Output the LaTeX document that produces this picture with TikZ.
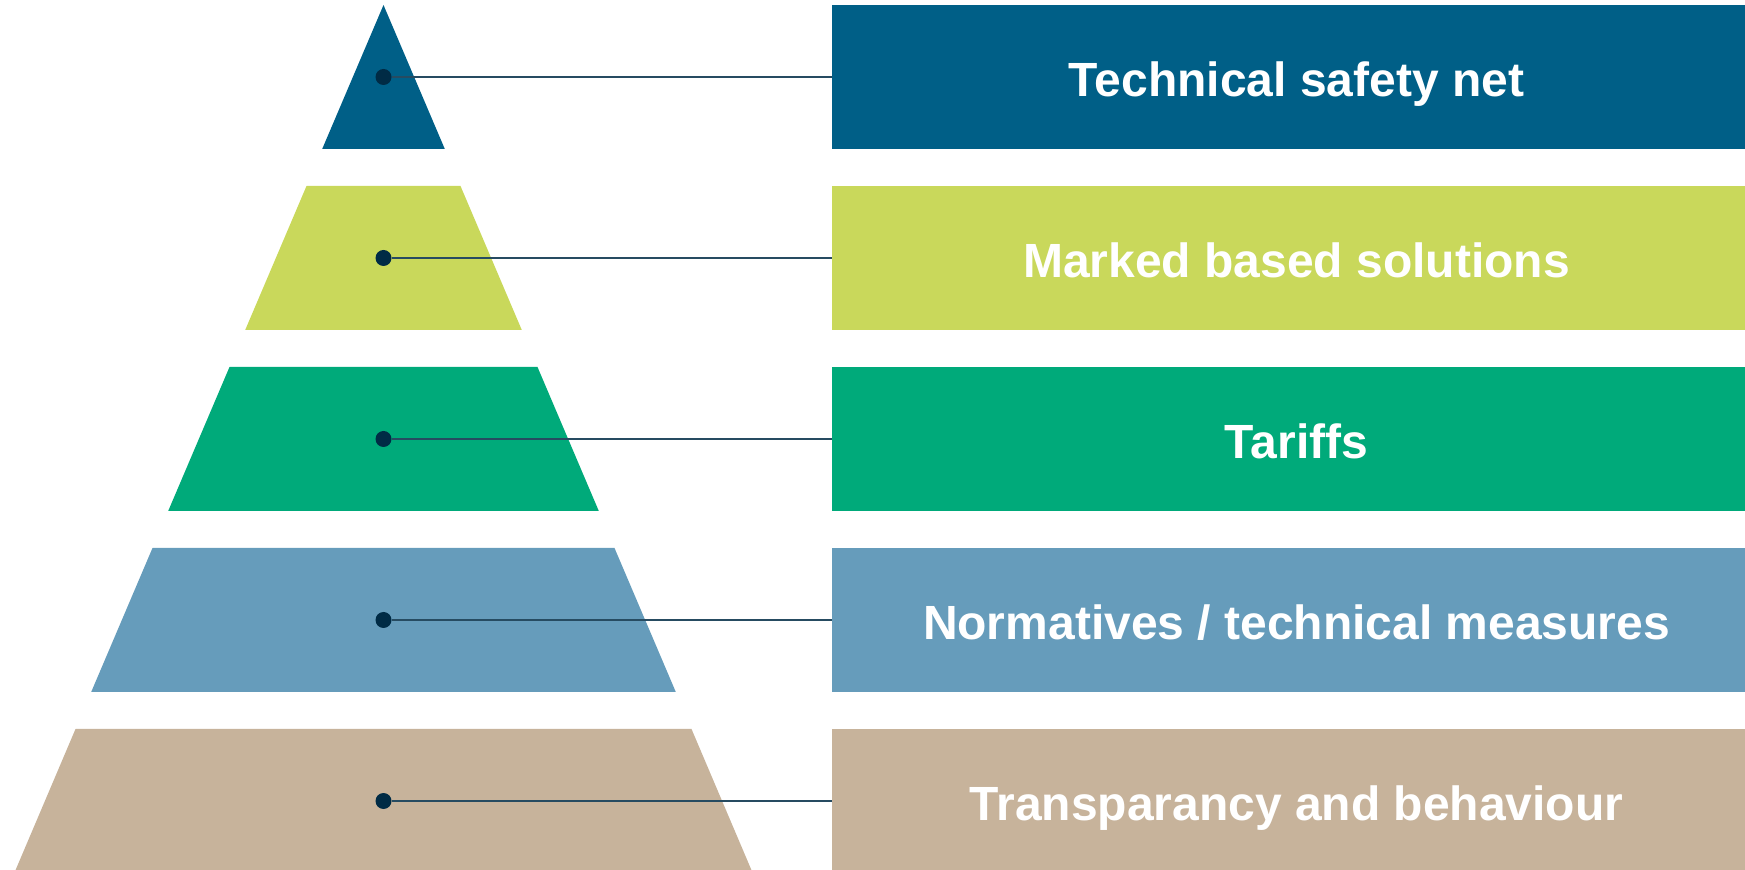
\documentclass[tikz,border=0pt]{standalone}
\usepackage{fontspec}
\setmainfont{Liberation Sans}
\definecolor{tierA}{HTML}{005F87}
\definecolor{tierB}{HTML}{C9D85B}
\definecolor{tierC}{HTML}{00AA7A}
\definecolor{tierD}{HTML}{669CBB}
\definecolor{tierE}{HTML}{C7B39B}
\definecolor{pin}{HTML}{002B45}
\tikzset{
  label box/.style={rectangle, inner sep=0pt, minimum width=456.5pt, minimum height=72pt},
  box text/.style={inner sep=0pt, xshift=4pt, yshift=-1pt, text=white,
    font=\fontsize{24}{28}\selectfont\bfseries, text height=17.2pt, text depth=0pt},
  pin dot/.style={circle, fill=pin, inner sep=0pt, minimum size=8pt},
  pin line/.style={draw=pin!85!white, line width=0.75pt}
}
\begin{document}
\begin{tikzpicture}[x=0.5pt, y=-0.5pt]
    \useasboundingbox (0,0) rectangle (1745,870);
    \clip (0,0) rectangle (1745,870);

    % Pyramid tiers
    \fill[tierA] (383.5,5) -- (444.8,149) -- (322.2,149) -- cycle;
    \fill[tierB] (306.5,186) -- (460.5,186) -- (521.8,330) -- (245.2,330) -- cycle;
    \fill[tierC] (229.5,367) -- (537.5,367) -- (598.8,511) -- (168.2,511) -- cycle;
    \fill[tierD] (152.5,548) -- (614.5,548) -- (675.8,692) -- (91.2,692) -- cycle;
    \fill[tierE] (75.5,729) -- (691.5,729) -- (752.7,873) -- (14.3,873) -- cycle;

    % Boxes
    \node[label box, fill=tierA] at (1288.5, 77) (netbox) {};
    \node[label box, fill=tierB] at (1288.5, 258) (marketbox) {};
    \node[label box, fill=tierC] at (1288.5, 439) (tariffbox) {};
    \node[label box, fill=tierD] at (1288.5, 620) (normbox) {};
    \node[label box, fill=tierE] at (1288.5, 801) (transbox) {};

    \node[box text] at (netbox) (nettext) {Technical safety net};
    \node[box text] at (marketbox) (markettext) {Marked based solutions};
    \node[box text] at (tariffbox) (tarifftext) {Tariffs};
    \node[box text] at (normbox) (normtext) {Normatives / technical measures};
    \node[box text] at (transbox) (transtext) {Transparancy and behaviour};

    % Dots
    \node[pin dot] at (383.5, 77) (netdot) {};
    \node[pin dot] at (383.5, 258) (marketdot) {};
    \node[pin dot] at (383.5, 439) (tariffdot) {};
    \node[pin dot] at (383.5, 620) (normdot) {};
    \node[pin dot] at (383.5, 801) (transdot) {};

    \draw[pin line] (netdot) -- (netbox.west);
    \draw[pin line] (marketdot) -- (marketbox.west);
    \draw[pin line] (tariffdot) -- (tariffbox.west);
    \draw[pin line] (normdot) -- (normbox.west);
    \draw[pin line] (transdot) -- (transbox.west);

  \end{tikzpicture}
\end{document}
